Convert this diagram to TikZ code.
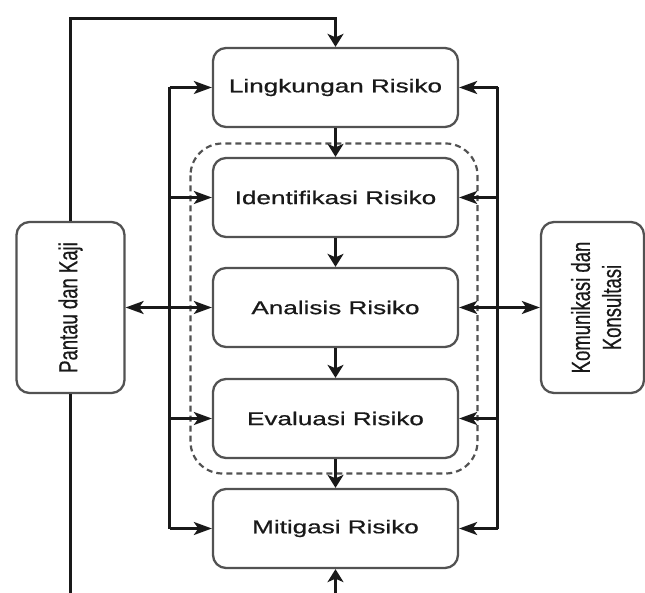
\documentclass[tikz,border=0pt]{standalone}
\usepackage{fontspec}
\setmainfont{Liberation Sans}[FakeBold=0.6]
\usetikzlibrary{arrows.meta,calc}

% horizontally widened label text
\newcommand{\widetext}[1]{\scalebox{1.41}[1]{#1}}
\newcommand{\widevert}[1]{\scalebox{1.41}[1]{\rotatebox{90}{#1}}}

\begin{document}
\begin{tikzpicture}[x=1pt,y=-1pt,
  line width=2.5pt,
  stepbox/.style={draw=black!68, line width=2.3pt, rounded corners=13pt, minimum width=245pt,
    minimum height=79pt, inner sep=0pt, fill=white, text=black!90,
    font=\fontsize{18.5}{21}\selectfont},
  sidebox/.style={draw=black!68, line width=2.3pt, rounded corners=13pt, minimum height=171pt,
    inner sep=0pt, fill=white, text=black!90,
    font=\fontsize{18.5}{21}\selectfont},
  htip/.tip={Stealth[length=18pt,width=13pt,inset=4.5pt]},
  vtip/.tip={Stealth[length=13pt,width=16pt,inset=3.5pt]},
  harr/.style={draw=black!90, -htip},
  varr/.style={draw=black!90, -vtip},
  darr/.style={draw=black!90, htip-htip},
  wire/.style={draw=black!90},
  group/.style={draw=black!68, dash pattern=on 6pt off 4pt, rounded corners=32pt, line width=2.2pt}
]
\useasboundingbox (0,0) rectangle (645,593);

% dashed grouping around identification, analysis and evaluation
\draw[group] (190.5,143.5) rectangle (477.5,473.5);

% main process steps
\node[stepbox] (L) at (335.5,87.5)  {\widetext{Lingkungan Risiko}};
\node[stepbox] (I) at (335.5,197.5) {\widetext{Identifikasi Risiko}};
\node[stepbox] (A) at (335.5,307.5) {\widetext{Analisis Risiko}};
\node[stepbox] (E) at (335.5,418.5) {\widetext{Evaluasi Risiko}};
\node[stepbox] (M) at (335.5,528.5) {\widetext{Mitigasi Risiko}};

% side activities
\node[sidebox, minimum width=108pt] (P) at (70.5,307.5) {\widevert{Pantau dan Kaji}};
\node[sidebox, minimum width=103pt] (K) at (592.5,307.5)
  {\hspace*{14pt}\widevert{\begin{tabular}{@{}c@{}}Komunikasi dan\\[1pt]Konsultasi\end{tabular}}};

% helper coordinates
\coordinate (top) at (70.5,18.5);
\coordinate (pbot) at (70.5,600);
\coordinate (mbot) at (335.5,600);
\coordinate (lbus) at (169.5,0);
\coordinate (rbus) at (497.5,0);

% feedback loop from monitoring back to context
\draw[varr] (P.north) -- (top) -| (L.north);
\draw[wire] (P.south) -- (pbot);
\draw[varr] (mbot) -- (M.south);

% sequential flow
\draw[varr] (L) -- (I);
\draw[varr] (I) -- (A);
\draw[varr] (A) -- (E);
\draw[varr] (E) -- (M);

% left bus
\draw[wire] (lbus |- L.west) -- (lbus |- M.west);
\draw[harr] (lbus |- L.west) -- (L.west);
\draw[harr] (lbus |- I.west) -- (I.west);
\draw[harr] (lbus |- E.west) -- (E.west);
\draw[harr] (lbus |- M.west) -- (M.west);
\draw[darr] (P.east) -- (A.west);

% right bus
\draw[wire] (rbus |- L.east) -- (rbus |- M.east);
\draw[harr] (rbus |- L.east) -- (L.east);
\draw[harr] (rbus |- I.east) -- (I.east);
\draw[harr] (rbus |- E.east) -- (E.east);
\draw[harr] (rbus |- M.east) -- (M.east);
\draw[darr] (A.east) -- (K.west);
\end{tikzpicture}
\end{document}
